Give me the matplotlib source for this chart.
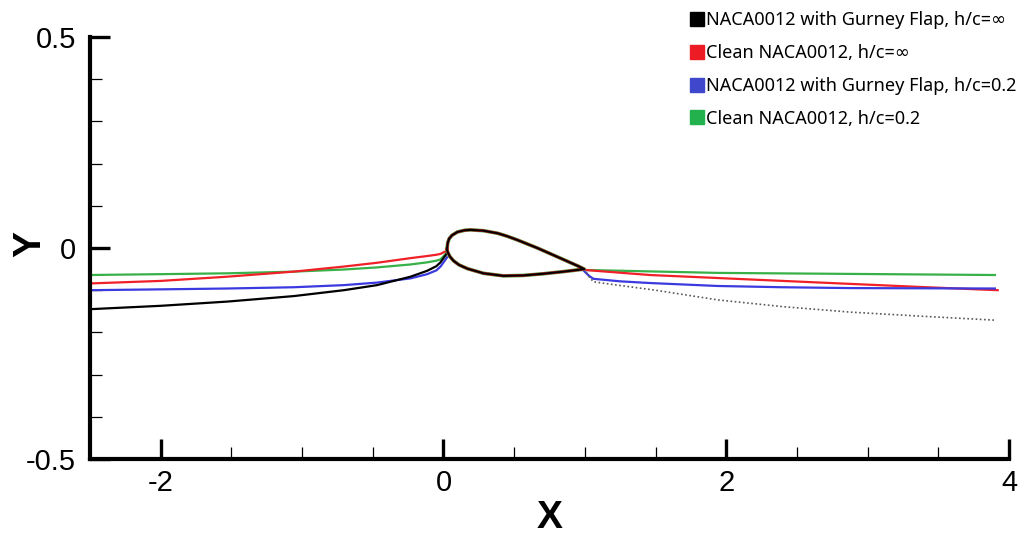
import matplotlib
matplotlib.use("Agg")
import matplotlib.pyplot as plt
from matplotlib.lines import Line2D
from matplotlib.ticker import FixedLocator, MultipleLocator

plt.rcParams['font.family'] = ['Liberation Sans', 'DejaVu Sans']

# airfoil contour, LE -> TE upper, TE -> LE lower
foil_x = [0.025, 0.030, 0.040, 0.060, 0.099, 0.150, 0.191, 0.283, 0.382, 0.450, 0.523,
          0.664, 0.806, 0.947, 0.996,
          0.848, 0.707, 0.565, 0.424, 0.283, 0.170, 0.110, 0.070, 0.045, 0.030, 0.025]
foil_y = [-0.003, 0.012, 0.022, 0.030, 0.038, 0.042, 0.043, 0.041, 0.035, 0.028, 0.019,
          0.000, -0.021, -0.042, -0.050,
          -0.056, -0.061, -0.065, -0.066, -0.060, -0.049, -0.040, -0.030, -0.020, -0.010, -0.003]

# upstream stagnation streamlines
up_x = [-2.5, -2.0, -1.53, -1.06, -0.705, -0.47, -0.233, -0.115, -0.05, -0.021, 0.026]
up_black_y = [-0.145, -0.137, -0.127, -0.114, -0.100, -0.088, -0.068, -0.054, -0.043, -0.034, -0.012]
up_red_y = [-0.084, -0.078, -0.068, -0.056, -0.044, -0.035, -0.024, -0.019, -0.016, -0.014, -0.006]
up_green_y = [-0.064, -0.062, -0.060, -0.056, -0.051, -0.046, -0.039, -0.034, -0.030, -0.027, -0.010]
up_blue_y = [-0.100, -0.098, -0.096, -0.093, -0.088, -0.082, -0.072, -0.062, -0.053, -0.044, -0.022]

# wake streamlines
dn_black_x = [0.996, 1.03, 1.06, 1.23, 1.5, 1.94, 2.4, 2.88, 3.4, 3.9]
dn_black_y = [-0.050, -0.068, -0.080, -0.088, -0.100, -0.123, -0.139, -0.152, -0.162, -0.171]
dn_red_x = [0.996, 1.46, 2.40, 3.35, 3.92]
dn_red_y = [-0.052, -0.064, -0.078, -0.092, -0.100]
dn_green_x = [0.996, 1.94, 3.9]
dn_green_y = [-0.052, -0.059, -0.064]
dn_blue_x = [0.996, 1.03, 1.06, 1.25, 1.46, 1.94, 2.4, 2.88, 3.9]
dn_blue_y = [-0.055, -0.066, -0.073, -0.079, -0.083, -0.090, -0.093, -0.095, -0.096]

labels = ["NACA0012 with Gurney Flap, h/c=\u221e", "Clean NACA0012, h/c=\u221e",
          "NACA0012 with Gurney Flap, h/c=0.2", "Clean NACA0012, h/c=0.2"]
sq_colors = ['#000000', '#ed1c24', '#3f48cc', '#22b14c']

fig = plt.figure(figsize=(10.21, 5.36), dpi=100)
ax = fig.add_axes([90/1021, 77/536, 919/1021, 422/536])

lw = 1.6
green, red, blue = '#38b048', '#f02028', '#3a3ae0'
ax.plot(up_x, up_green_y, color=green, lw=lw)
ax.plot(up_x, up_red_y, color=red, lw=lw)
ax.plot(up_x, up_blue_y, color=blue, lw=lw)
ax.plot(up_x, up_black_y, color='black', lw=lw)
ax.plot(dn_green_x, dn_green_y, color=green, lw=lw)
ax.plot(dn_red_x, dn_red_y, color=red, lw=lw)
ax.plot(dn_blue_x, dn_blue_y, color=blue, lw=lw)
ax.plot(dn_black_x, dn_black_y, color='0.35', lw=1.2, ls=(0, (1, 1.5)))
ax.plot(foil_x, foil_y, color=green, lw=2.6)
ax.plot(foil_x, foil_y, color=red, lw=2.0)
ax.plot(foil_x, foil_y, color='black', lw=1.5)

ax.set_xlim(-2.5, 4)
ax.set_ylim(-0.5, 0.5)
for s in ['top', 'right']:
    ax.spines[s].set_visible(False)
for s in ['left', 'bottom']:
    ax.spines[s].set_linewidth(3)

ax.xaxis.set_major_locator(FixedLocator([-2, 0, 2, 4]))
ax.xaxis.set_minor_locator(MultipleLocator(0.5))
ax.yaxis.set_major_locator(FixedLocator([-0.5, 0, 0.5]))
ax.yaxis.set_minor_locator(MultipleLocator(0.1))
ax.set_xticklabels(["-2", "0", "2", "4"])
ax.set_yticklabels(["-0.5", "0", "0.5"])
ax.tick_params(which='major', direction='in', length=14.5, width=2.4, labelsize=21)
ax.tick_params(which='minor', direction='in', length=8.5, width=0.9)
ax.tick_params(axis='y', which='major', pad=10)
ax.tick_params(axis='x', which='major', pad=7)

ax.set_xlabel("X", fontsize=28, fontweight='bold')
ax.xaxis.set_label_coords(0.5, -0.098)
ax.xaxis.label.set_verticalalignment('top')
ax.set_ylabel("Y", fontsize=28, fontweight='bold')
ax.yaxis.set_label_coords(-0.085, 0.51)
ax.yaxis.label.set_verticalalignment('top')

handles = [Line2D([], [], marker='s', ls='none', color=c, markersize=10) for c in sq_colors]
fig.legend(handles, labels, loc='upper left', bbox_to_anchor=(683/1021, 1 - 4/536),
           frameon=False, prop={'family': ['Noto Sans', 'DejaVu Sans'], 'size': 13},
           handlelength=0.8, handletextpad=0.05, labelspacing=0.82, borderaxespad=0)

fig.savefig("out.png", dpi=100)
